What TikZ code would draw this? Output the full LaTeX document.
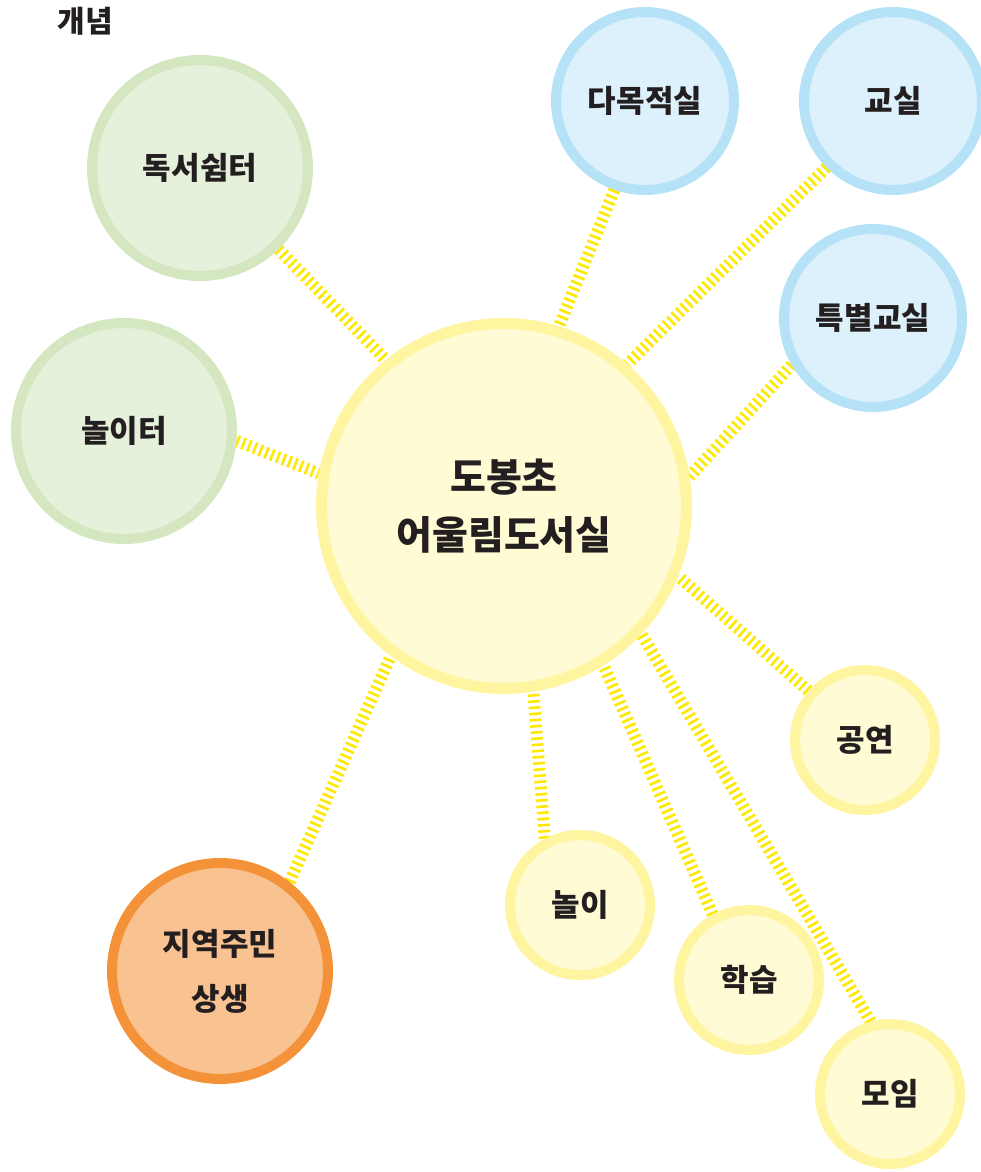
\documentclass[tikz,border=0pt]{standalone}
\usepackage{fontspec}
\setmainfont{Noto Sans CJK KR}
\usepackage{xcolor}
\usetikzlibrary{backgrounds}

\definecolor{ink}{HTML}{231F20}
\definecolor{hubfill}{HTML}{FFFBD4}
\definecolor{hubline}{HTML}{FFF5A0}
\definecolor{greenfill}{HTML}{E6F1DC}
\definecolor{greenline}{HTML}{D4E7C0}
\definecolor{bluefill}{HTML}{DCF1FB}
\definecolor{blueline}{HTML}{B6E2F7}
\definecolor{orangefill}{HTML}{F9C391}
\definecolor{orangeline}{HTML}{F39239}
\definecolor{linkyellow}{HTML}{FFE800}

\begin{document}
\begin{tikzpicture}[x=1pt,y=-1pt,
  bubble/.style={circle,line width=10pt,inner sep=0pt,align=center,text=ink,
    font=\bfseries\fontsize{31}{55}\selectfont},
  hub/.style={bubble,draw=hubline,fill=hubfill,line width=11pt,minimum size=365pt,
    font=\bfseries\fontsize{39}{58}\selectfont},
  place/.style={bubble,draw=greenline,fill=greenfill,minimum size=216pt},
  room/.style={bubble,draw=blueline,fill=bluefill,minimum size=178pt},
  act/.style={bubble,draw=hubline,fill=hubfill,minimum size=140pt},
  link/.style={draw=linkyellow,line width=12pt,dash pattern=on 2.6pt off 3.6pt}]
\useasboundingbox (0,0) rectangle (980,1172);
\node[font=\bfseries\fontsize{30}{32}\selectfont,text=ink] (title) at (85,21) {개념};
% --- centre ---
\node[hub] (lib) at (504,506) {도봉초\\어울림도서실};
% --- places (green) ---
\node[place] (rest) at (200,168) {독서쉼터};
\node[place] (yard) at (124,431) {놀이터};
% --- rooms (blue) ---
\node[room] (multi) at (645,101) {다목적실};
\node[room] (class) at (893,101) {교실};
\node[room] (special) at (873,318) {특별교실};
% --- activities (yellow) ---
\node[act] (show) at (865,740) {공연};
\node[act] (play) at (580,905) {놀이};
\node[act] (study) at (749,980) {학습};
\node[act] (meet) at (890,1094) {모임};
% --- neighbours (orange) ---
\node[bubble,draw=orangeline,fill=orangefill,minimum size=216pt] (town) at (220,971) {지역주민\\상생};
\begin{scope}[on background layer]
\draw[link] (rest.-46) -- (lib.129);
\draw[link] (yard.-5) -- (lib.170);
\draw[link] (multi.-109) -- (lib.73);
\draw[link] (class.-135) -- (lib.49);
\draw[link] (special.-150) -- (lib.9);
\draw[link] (show.139) -- (lib.-22);
\draw[link] (play.118) -- (lib.-81);
\draw[link] (study.119) -- (lib.-58);
\draw[link] (meet.105) -- (lib.-43);
\draw[link] (town.52) -- (lib.-127);
\end{scope}
\end{tikzpicture}
\end{document}
